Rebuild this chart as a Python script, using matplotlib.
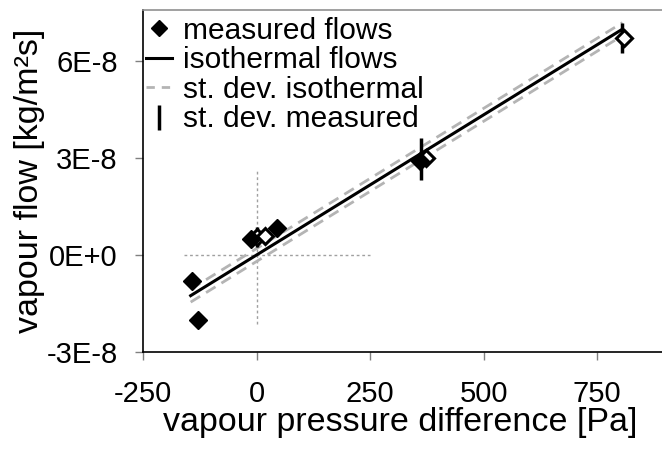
import numpy as np
import matplotlib
matplotlib.use("Agg")
import matplotlib.pyplot as plt
from matplotlib.lines import Line2D
from matplotlib.ticker import FixedLocator, FixedFormatter

plt.rcParams['font.family'] = ['Liberation Sans', 'DejaVu Sans']

# measured flows (filled diamonds)
meas_dp = [-143, -128, -12, 46, 359]
meas_flow = [-8.0e-9, -2.0e-8, 4.9e-9, 8.3e-9, 2.92e-8]

# open diamonds
open_dp = [0, 18, 374, 810]
open_flow = [5.6e-9, 5.9e-9, 3.0e-8, 6.71e-8]

# st. dev. measured (vertical bars)
err_dp = [0, 45, 363, 374, 806]
err_flow = [5.6e-9, 7.5e-9, 2.97e-8, 3.0e-8, 6.71e-8]
err_sd = [3.0e-9, 1.5e-9, 6.5e-9, 2.6e-9, 4.6e-9]

# isothermal flows: slope through origin, with st. dev. band
iso_dp = [-145, 806]
iso_slope = 8.67e-11
iso_sd = 2.0e-9

xticks = [-250, 0, 250, 500, 750]
xtick_labels = ['-250', '0', '250', '500', '750']
yticks = [-3e-8, 0, 3e-8, 6e-8]
ytick_labels = ['-3E-8', '0E+0', '3E-8', '6E-8']

fig = plt.figure(figsize=(6.62, 4.54), dpi=100)
ax = fig.add_axes([0.216, 0.2247, 0.784, 0.7533])

# origin crosshair
ax.plot([-160, 250], [0, 0], ls=(0, (2, 2)), color='#a0a0a0', lw=1)
ax.plot([0, 0], [-2.13e-8, 2.66e-8], ls=(0, (2, 2)), color='#a0a0a0', lw=1)

xs = np.array(iso_dp)
ax.plot(xs, iso_slope * xs + iso_sd, ls=(0, (4, 2.5)), color='#b4b4b4', lw=2)
ax.plot(xs, iso_slope * xs - iso_sd, ls=(0, (4, 2.5)), color='#b4b4b4', lw=2)
ax.plot(xs, iso_slope * xs, color='black', lw=2.2)

ax.errorbar(err_dp, err_flow, yerr=err_sd, fmt='none', ecolor='black', elinewidth=2.5, capsize=0)
ax.plot(open_dp, open_flow, 'D', ms=8.5, mfc='white', mec='black', mew=2.2, ls='none')
ax.plot(meas_dp, meas_flow, 'D', ms=9, color='black', ls='none')

ax.set_xlim(-250, 893)
ax.set_ylim(-3e-8, 7.58e-8)
ax.xaxis.set_major_locator(FixedLocator(xticks))
ax.xaxis.set_major_formatter(FixedFormatter(xtick_labels))
ax.yaxis.set_major_locator(FixedLocator(yticks))
ax.yaxis.set_major_formatter(FixedFormatter(ytick_labels))
ax.tick_params(direction='out', length=6, width=1, color='#808080', labelsize=21)
ax.tick_params(axis='x', pad=14)
ax.tick_params(axis='y', pad=12)

for s in ['left', 'bottom']:
    ax.spines[s].set_color('black')
    ax.spines[s].set_linewidth(1.2)
ax.spines['top'].set_color('#909090')
ax.spines['top'].set_linewidth(1.2)
ax.spines['right'].set_visible(False)

ax.set_xlabel('vapour pressure difference [Pa]', fontsize=24.5, va='center')
ax.xaxis.set_label_coords(0.495, -0.205)
ax.set_ylabel('vapour flow [kg/m²s]', fontsize=24.5, va='center')
ax.yaxis.set_label_coords(-0.218, 0.5)

handles = [
    Line2D([], [], marker='D', color='black', ls='none', ms=8),
    Line2D([], [], color='black', lw=2.2),
    Line2D([], [], color='#b4b4b4', lw=2, ls=(0, (3, 2.5))),
    Line2D([], [], marker='|', color='black', ls='none', ms=18, mew=2.5),
]
labels = ['measured flows', 'isothermal flows', 'st. dev. isothermal', 'st. dev. measured']
ax.legend(handles, labels, loc='upper left', bbox_to_anchor=(0.005, 0.98), frameon=False,
          fontsize=21.5, handlelength=0.9, handletextpad=0.35, labelspacing=0.05,
          borderpad=0.0, borderaxespad=0.0)

fig.savefig('out.png', dpi=100)
